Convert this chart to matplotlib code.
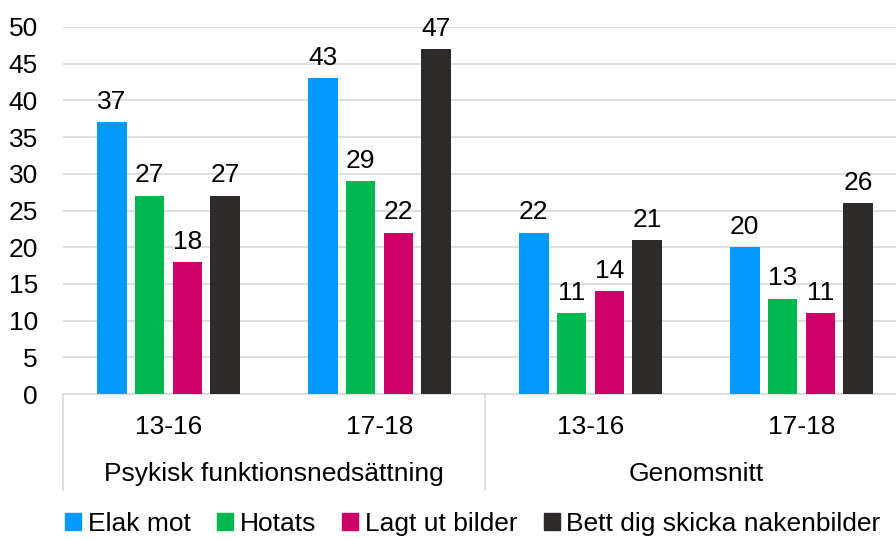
import matplotlib
matplotlib.use("Agg")
import matplotlib.pyplot as plt
import matplotlib.transforms as mtransforms
from matplotlib.lines import Line2D
import numpy as np

plt.rcParams['font.family'] = ['Liberation Sans', 'DejaVu Sans']

subcats = ["13-16", "17-18", "13-16", "17-18"]
groups = ["Psykisk funktionsnedsättning", "Genomsnitt"]
series = ["Elak mot", "Hotats", "Lagt ut bilder", "Bett dig skicka nakenbilder"]
elak = [37, 43, 22, 20]
hotats = [27, 29, 11, 13]
lagt = [18, 22, 14, 11]
bett = [27, 47, 21, 26]
colors = ["#0099FF", "#00B850", "#CC0066", "#2E2A2A"]
yticks = [0, 5, 10, 15, 20, 25, 30, 35, 40, 45, 50]

FS = 19
W, H = 896, 539
fig = plt.figure(figsize=(W / 100, H / 100), dpi=100)
left_px, right_px, top_px, bot_px = 63, 907, 27, 394
ax = fig.add_axes([left_px / W, 1 - bot_px / H, (right_px - left_px) / W, (bot_px - top_px) / H])

x = np.arange(len(subcats))
step = 0.18
width = 0.142
data = [elak, hotats, lagt, bett]
for i, (vals, col) in enumerate(zip(data, colors)):
    pos = x + (i - 1.5) * step
    bars = ax.bar(pos, vals, width=width, color=col, zorder=3)
    for b, v in zip(bars, vals):
        ax.annotate(str(v), (b.get_x() + b.get_width() / 2, v), xytext=(0, 6),
                    textcoords="offset points", ha="center", va="bottom", fontsize=FS)

ax.set_xlim(-0.5, len(subcats) - 0.5)
ax.set_ylim(0, 50)
ax.set_yticks(yticks)
ax.tick_params(axis='y', length=0, labelsize=FS, pad=18)
ax.set_xticks([])
ax.grid(axis='y', color="#D9D9D9", linewidth=1.2, zorder=0)
for s in ["top", "right", "left"]:
    ax.spines[s].set_visible(False)
ax.spines["bottom"].set_color("#D9D9D9")
ax.spines["bottom"].set_linewidth(1.2)

trans = mtransforms.blended_transform_factory(ax.transData, ax.transAxes)
for xi, lab in zip(x, subcats):
    ax.text(xi, -0.09, lab, transform=trans, ha="center", va="center", fontsize=FS)
for gi, g in enumerate(groups):
    ax.text(gi * 2 + 0.5, -0.218, g, transform=trans, ha="center", va="center", fontsize=FS)
for sx in [-0.5, 1.5, 3.5]:
    ax.add_line(Line2D([sx, sx], [0, -0.262], transform=trans, color="#D9D9D9",
                       linewidth=1.2, clip_on=False))

handles = [plt.Rectangle((0, 0), 1, 1, color=c) for c in colors]
fig.legend(handles, series, loc="center", bbox_to_anchor=(473 / W, 1 - 524 / H), ncol=4,
           frameon=False, fontsize=FS, handlelength=0.6, handleheight=0.6,
           handletextpad=0.25, columnspacing=1.0, borderpad=0)

fig.savefig("out.png", dpi=100)
